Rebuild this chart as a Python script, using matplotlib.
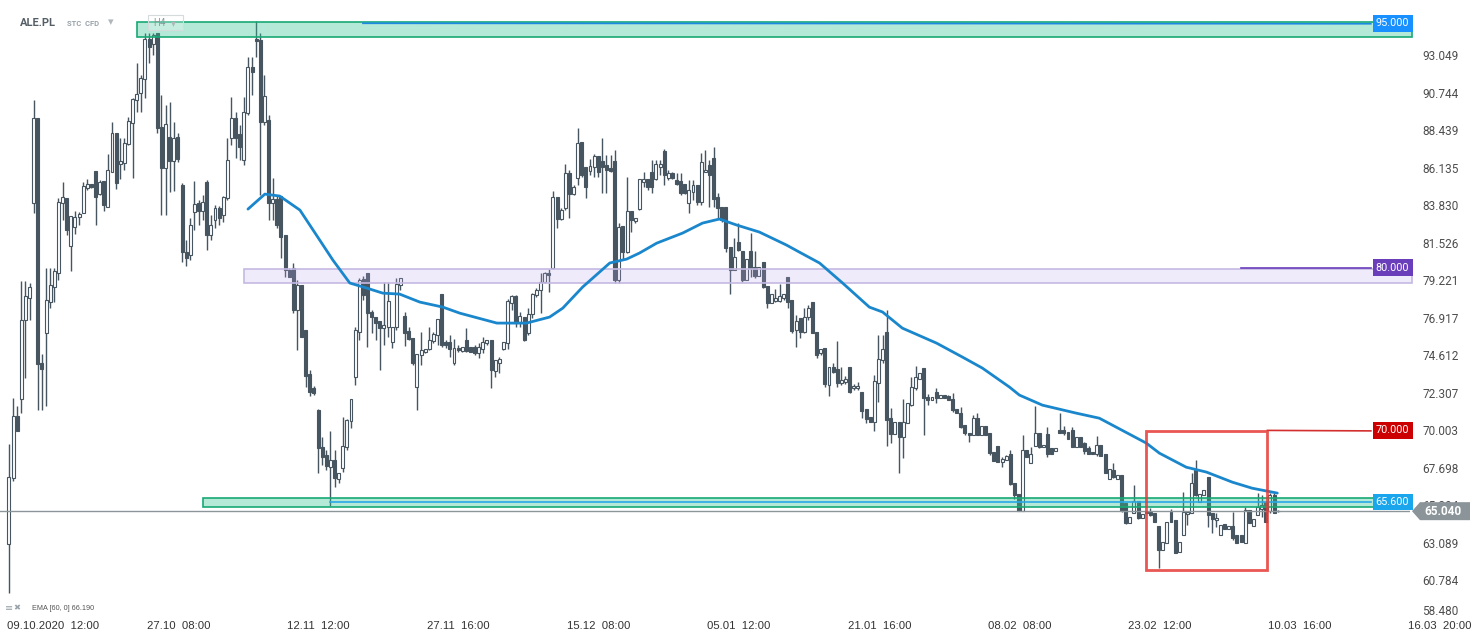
import numpy as np
import matplotlib.pyplot as plt
from matplotlib import transforms
from matplotlib.colors import to_rgba
from matplotlib.patches import Rectangle, Polygon

# ---------------------------------------------------------------
# ALE.PL, H4 candles (prices)
opens = [
    63.01, 67.07, 70.88, 71.92, 76.77, 78.13, 83.97, 89.18, 74.14, 75.98,
    77.88, 78.80, 79.67, 83.97, 84.27, 81.32, 82.49, 83.10, 83.35, 84.88,
    85.13, 85.93, 84.51, 85.31, 83.72, 85.87, 88.27, 86.35, 86.42, 87.58,
    88.88, 90.29, 90.72, 91.58, 94.03, 93.73, 94.40, 88.63, 86.11, 88.02,
    86.54, 88.02, 85.07, 80.95, 80.77, 83.41, 83.97, 83.47, 85.25, 81.99,
    82.92, 83.66, 83.22, 84.27, 87.95, 89.18, 88.20, 86.60, 89.49, 92.31,
    94.03, 93.97, 88.94, 89.06, 83.97, 84.21, 84.39, 81.99, 79.85, 79.97,
    77.39, 78.92, 76.16, 73.46, 72.60, 71.25, 68.97, 68.48, 67.74, 68.17,
    67.01, 67.68, 68.97, 70.57, 73.27, 76.04, 79.29, 79.67, 77.26, 76.96,
    76.71, 76.28, 76.34, 75.42, 76.34, 78.92, 77.02, 76.10, 75.67, 72.66,
    74.62, 74.81, 74.99, 75.48, 75.85, 78.37, 75.42, 75.42, 74.14, 75.05,
    74.87, 75.55, 75.12, 75.12, 74.75, 74.99, 75.36, 75.55, 73.64, 74.13,
    74.99, 75.36, 77.82, 78.25, 76.65, 76.96, 75.98, 77.14, 78.31, 78.62,
    79.11, 79.66, 79.97, 84.33, 82.98, 83.66, 85.80, 84.51, 85.50, 87.71,
    86.17, 85.93, 86.17, 86.85, 86.54, 86.30, 86.11, 86.54, 79.23, 82.55,
    80.95, 83.47, 82.86, 83.59, 85.25, 85.43, 85.87, 85.43, 86.17, 87.16,
    85.50, 85.80, 85.37, 85.31, 85.13, 83.97, 84.64, 85.07, 84.03, 85.87,
    86.30, 86.72, 84.33, 83.72, 83.72, 81.26, 79.85, 81.57, 81.01, 79.23,
    81.01, 80.03, 79.48, 80.34, 78.86, 77.82, 77.94, 77.94, 78.13, 79.42,
    78.00, 76.16, 76.90, 76.04, 76.96, 77.88, 76.04, 74.75, 75.05, 72.78,
    73.89, 73.77, 72.90, 72.97, 73.89, 72.60, 72.60, 72.35, 71.31, 70.82,
    70.51, 72.90, 74.32, 76.04, 70.76, 69.77, 70.51, 69.59, 70.45, 71.55,
    72.60, 73.15, 73.83, 72.04, 71.86, 72.35, 71.98, 72.17, 72.11, 71.92,
    71.31, 71.06, 70.32, 69.83, 69.71, 70.75, 69.71, 70.26, 69.83, 68.67,
    69.03, 68.05, 68.17, 68.54, 66.76, 66.08, 65.04, 68.79, 67.99, 69.03,
    69.83, 68.97, 69.77, 68.91, 68.73, 70.02, 70.02, 69.89, 70.02, 68.97,
    69.59, 69.22, 68.91, 68.67, 68.54, 69.09, 68.54, 67.01, 67.56, 67.01,
    67.25, 65.53, 64.30, 64.92, 65.66, 64.61, 64.98, 64.98, 64.92, 64.12,
    62.65, 63.08, 64.98, 64.49, 62.52, 63.57, 64.86, 64.92, 67.56, 65.59,
    66.02, 67.13, 64.92, 64.49, 63.57, 64.24, 63.94, 64.12, 63.57, 63.57,
    63.08, 65.10, 64.12, 64.80, 65.17, 65.60, 65.04, 66.02, 65.04,
]
highs = [
    69.15, 71.98, 71.49, 79.17, 79.17, 79.05, 90.29, 89.18, 74.68, 79.97,
    79.97, 79.97, 84.27, 85.25, 84.27, 83.16, 83.47, 83.41, 85.25, 85.43,
    85.13, 85.93, 85.37, 85.31, 86.97, 88.94, 88.27, 87.95, 87.95, 89.24,
    90.41, 92.56, 91.82, 94.40, 94.40, 94.40, 94.40, 90.60, 89.98, 90.17,
    88.94, 88.26, 85.19, 81.69, 83.04, 85.31, 84.15, 84.45, 85.37, 83.22,
    83.84, 83.78, 84.39, 87.95, 90.47, 89.55, 88.75, 90.47, 92.93, 92.93,
    95.14, 94.40, 91.82, 89.37, 85.50, 84.45, 84.39, 81.99, 79.97, 80.28,
    79.23, 78.92, 76.16, 73.70, 72.72, 71.31, 69.59, 68.79, 69.96, 68.79,
    67.38, 70.82, 70.69, 71.92, 76.34, 79.35, 79.48, 79.67, 77.39, 76.96,
    76.71, 79.11, 79.11, 76.34, 79.35, 79.35, 77.27, 76.34, 75.67, 74.68,
    76.04, 74.99, 76.34, 76.04, 76.84, 78.37, 75.55, 75.85, 75.61, 75.24,
    75.12, 76.28, 75.12, 75.24, 75.36, 75.73, 75.55, 75.55, 74.32, 74.50,
    75.42, 78.06, 78.31, 78.31, 77.27, 76.96, 77.51, 78.43, 78.74, 79.66,
    79.72, 79.91, 84.70, 84.33, 83.66, 86.36, 85.99, 85.07, 88.57, 87.71,
    86.17, 86.66, 86.97, 86.85, 87.95, 86.91, 86.91, 87.22, 82.73, 82.55,
    85.56, 83.47, 83.04, 85.43, 85.87, 85.43, 86.60, 86.60, 86.60, 87.28,
    85.99, 85.87, 85.80, 85.80, 85.13, 85.37, 85.37, 85.07, 87.03, 87.22,
    86.60, 87.40, 84.58, 83.72, 83.72, 81.26, 81.81, 82.73, 81.01, 80.52,
    82.12, 81.03, 80.03, 80.34, 78.86, 78.37, 78.68, 78.99, 78.37, 79.42,
    78.00, 77.08, 76.90, 77.51, 77.70, 77.88, 76.04, 74.99, 75.05, 73.89,
    74.13, 75.48, 73.89, 73.33, 73.89, 72.84, 72.97, 72.35, 71.31, 70.82,
    73.39, 75.85, 75.85, 77.39, 71.37, 70.51, 70.51, 71.92, 71.68, 73.27,
    73.95, 73.52, 73.83, 72.23, 72.04, 72.60, 72.17, 72.17, 72.17, 72.29,
    71.31, 71.43, 70.32, 69.83, 70.94, 71.06, 70.26, 70.26, 69.83, 68.67,
    69.03, 68.36, 68.48, 68.79, 66.76, 66.08, 69.71, 68.79, 68.97, 71.49,
    69.83, 69.09, 70.20, 68.91, 68.91, 71.06, 70.26, 69.89, 70.20, 69.59,
    69.59, 69.28, 69.03, 68.67, 69.65, 69.09, 68.54, 67.62, 67.99, 67.25,
    67.25, 65.53, 64.67, 66.64, 65.66, 64.86, 64.98, 65.23, 64.92, 64.12,
    63.14, 64.37, 65.17, 64.49, 63.14, 66.21, 64.98, 67.38, 68.17, 66.08,
    66.33, 67.13, 64.92, 64.92, 64.18, 64.24, 64.12, 64.98, 63.57, 63.57,
    65.29, 65.10, 64.55, 66.15, 66.02, 65.60, 66.15, 66.15, 65.10,
]
lows = [
    60.01, 66.89, 69.96, 71.07, 73.21, 76.77, 83.35, 71.25, 71.25, 71.49,
    77.51, 77.88, 79.23, 82.92, 81.99, 79.79, 82.05, 82.61, 83.35, 84.76,
    84.88, 82.61, 84.45, 83.47, 83.72, 85.87, 84.82, 85.43, 85.99, 87.52,
    85.50, 89.55, 89.55, 90.41, 92.56, 93.05, 88.27, 83.22, 83.22, 84.64,
    84.70, 86.48, 80.34, 80.09, 80.46, 82.30, 82.61, 82.92, 81.07, 81.69,
    82.43, 82.61, 82.80, 84.15, 87.52, 86.72, 86.60, 86.30, 89.37, 90.60,
    92.93, 84.45, 88.75, 82.92, 82.92, 82.43, 80.58, 79.42, 79.42, 77.20,
    74.93, 75.73, 72.66, 72.11, 72.17, 67.38, 67.87, 67.56, 65.35, 66.52,
    66.76, 67.44, 68.79, 70.14, 72.78, 75.55, 78.00, 75.12, 75.98, 75.55,
    73.70, 75.24, 75.73, 75.05, 76.16, 78.62, 75.18, 75.55, 74.01, 71.25,
    74.01, 74.75, 74.93, 75.36, 75.24, 75.12, 75.05, 74.50, 74.01, 74.81,
    74.81, 74.81, 74.81, 74.62, 74.44, 74.75, 75.24, 72.60, 73.27, 73.52,
    74.93, 74.99, 77.39, 76.34, 76.34, 75.48, 75.85, 76.90, 78.19, 77.20,
    79.05, 78.50, 79.91, 82.43, 82.92, 83.53, 83.04, 84.45, 85.07, 85.56,
    84.27, 85.68, 85.56, 85.56, 84.58, 84.58, 85.87, 79.05, 79.05, 80.52,
    80.89, 82.18, 82.73, 83.53, 84.94, 84.76, 84.58, 85.37, 85.68, 85.07,
    85.37, 85.43, 85.07, 84.45, 84.51, 83.35, 84.15, 83.84, 83.84, 85.87,
    83.72, 83.72, 83.04, 82.80, 80.95, 78.37, 79.85, 81.03, 79.11, 79.23,
    79.42, 79.35, 79.48, 78.74, 77.51, 77.82, 77.88, 77.88, 78.00, 77.51,
    75.98, 75.12, 75.67, 75.98, 76.77, 75.98, 74.44, 74.62, 72.66, 72.11,
    73.52, 72.66, 72.78, 72.84, 72.29, 72.47, 72.47, 70.76, 70.45, 70.51,
    69.96, 71.74, 74.13, 69.03, 69.22, 69.77, 67.38, 68.30, 70.45, 71.49,
    72.47, 73.15, 69.71, 71.55, 71.86, 71.68, 71.98, 71.98, 71.86, 71.12,
    71.06, 70.14, 69.71, 69.28, 69.71, 69.71, 69.71, 69.71, 68.48, 68.11,
    68.05, 67.74, 68.17, 66.64, 65.78, 65.04, 65.04, 68.36, 67.99, 69.03,
    68.91, 68.97, 68.36, 68.54, 68.73, 69.83, 69.71, 69.46, 68.97, 68.97,
    68.97, 68.54, 68.54, 68.54, 68.42, 68.42, 67.38, 67.01, 67.07, 67.01,
    64.98, 64.24, 64.30, 64.92, 64.55, 64.61, 64.92, 64.73, 64.37, 61.54,
    62.65, 63.08, 64.37, 62.46, 62.52, 63.57, 64.18, 64.92, 65.96, 65.59,
    66.02, 64.06, 63.69, 64.06, 63.57, 63.94, 63.94, 63.26, 63.08, 63.14,
    63.08, 64.30, 64.12, 64.80, 64.67, 64.37, 64.92, 64.92, 64.98,
]
closes = [
    67.13, 70.88, 69.96, 76.77, 78.25, 78.80, 89.18, 74.07, 73.77, 78.00,
    78.92, 79.79, 84.03, 84.33, 82.30, 83.16, 83.10, 83.29, 85.00, 85.13,
    84.94, 84.33, 85.25, 83.84, 85.99, 88.27, 85.19, 86.54, 87.65, 89.00,
    90.35, 90.66, 91.64, 94.03, 93.54, 94.28, 88.57, 86.11, 88.81, 86.54,
    87.95, 86.66, 80.95, 80.58, 82.61, 83.90, 83.47, 84.03, 81.99, 82.61,
    83.66, 83.04, 84.33, 86.60, 89.18, 87.95, 87.40, 89.55, 92.31, 92.01,
    93.91, 88.94, 90.53, 83.97, 84.21, 82.61, 81.87, 79.85, 79.42, 77.39,
    78.92, 75.73, 73.33, 72.35, 72.29, 68.91, 68.36, 67.81, 68.17, 67.07,
    67.38, 69.03, 70.63, 71.92, 76.16, 79.23, 78.31, 77.20, 76.96, 76.59,
    76.28, 76.47, 77.94, 76.34, 78.98, 79.35, 75.98, 75.61, 74.14, 74.68,
    74.93, 74.99, 75.55, 75.91, 76.84, 75.24, 75.24, 74.99, 75.05, 74.93,
    75.12, 74.87, 74.81, 74.75, 75.12, 75.42, 75.55, 73.70, 74.32, 74.38,
    75.42, 77.94, 78.25, 76.59, 77.02, 75.55, 77.14, 78.37, 78.62, 79.11,
    79.66, 79.54, 84.33, 82.98, 83.53, 85.80, 84.51, 84.94, 87.65, 85.68,
    84.94, 86.23, 86.85, 85.87, 86.17, 85.99, 85.93, 79.23, 82.49, 80.95,
    83.47, 82.92, 83.04, 85.43, 85.43, 84.94, 84.94, 86.36, 86.36, 85.68,
    85.80, 85.50, 85.13, 84.58, 84.58, 84.76, 85.07, 84.03, 86.48, 85.99,
    85.68, 84.21, 83.66, 82.92, 81.20, 79.85, 80.64, 81.09, 79.23, 80.52,
    79.97, 79.48, 80.03, 78.80, 77.82, 78.37, 78.13, 78.25, 78.37, 77.88,
    76.10, 76.71, 76.04, 76.96, 77.51, 75.98, 74.62, 74.99, 72.84, 73.89,
    73.58, 72.90, 73.09, 73.15, 72.35, 72.72, 72.72, 71.18, 70.69, 70.51,
    73.03, 74.38, 74.99, 70.63, 69.77, 70.51, 69.59, 70.51, 71.68, 72.66,
    73.27, 73.52, 71.98, 71.86, 72.04, 71.98, 72.17, 71.98, 71.86, 71.25,
    71.06, 70.20, 69.83, 69.71, 70.75, 69.71, 70.26, 69.71, 68.60, 68.11,
    68.05, 68.24, 68.42, 66.70, 66.02, 65.04, 68.79, 68.36, 68.54, 69.83,
    68.97, 69.09, 68.54, 68.54, 68.91, 69.83, 69.83, 69.46, 68.97, 69.59,
    68.97, 68.73, 68.54, 68.54, 69.09, 68.42, 67.38, 67.62, 67.13, 67.25,
    65.10, 64.30, 64.67, 65.66, 64.61, 64.86, 64.92, 64.80, 64.37, 62.65,
    63.14, 64.37, 64.37, 62.46, 63.14, 64.98, 64.98, 66.76, 66.02, 66.08,
    66.33, 64.80, 64.55, 64.61, 64.18, 63.94, 64.12, 63.38, 63.08, 63.14,
    65.10, 64.30, 64.55, 65.29, 65.41, 64.37, 66.02, 64.92, 65.04,
]

# EMA(60) sampled off the chart: candle index -> value
ema_idx = [58.0, 62.1, 65.7, 70.6, 75.4, 78.6, 82.7, 86.8, 90.7, 94.8,
           99.7, 105.3, 109.4, 118.4, 125.6, 131.2, 134.4, 139.2, 145.8, 149.9,
           153.0, 157.2, 163.5, 168.3, 172.4, 176.6, 182.1, 188.7, 191.8, 196.7,
           202.3, 208.8, 212.0, 216.8, 225.1, 231.4, 236.2, 242.8, 245.2, 250.8,
           259.0, 264.6, 276.0, 279.2, 285.7, 290.6, 296.9, 301.7, 307.8]
ema_val = [83.59, 84.51, 84.39, 83.53, 81.69, 80.46, 79.05, 78.74, 78.43, 78.37,
           77.88, 77.57, 77.20, 76.59, 76.59, 76.96, 77.51, 78.80, 80.28, 80.52,
           80.89, 81.50, 82.12, 82.73, 82.98, 82.61, 82.18, 81.38, 80.95, 80.28,
           79.05, 77.57, 77.27, 76.28, 75.36, 74.50, 73.83, 72.66, 72.17, 71.55,
           71.06, 70.75, 69.22, 68.60, 67.74, 67.44, 66.82, 66.45, 66.15]

ytick_vals = [58.480, 60.784, 63.089, 65.394, 67.698, 70.003, 72.307, 74.612,
              76.917, 79.221, 81.526, 83.830, 86.135, 88.439, 90.744, 93.049]
date_idx = [0, 34, 68, 102, 136, 170, 204, 238, 272, 306, 340]
date_labels = ['09.10.2020  12:00', '27.10  08:00', '12.11  12:00', '27.11  16:00',
               '15.12  08:00', '05.01  12:00', '21.01  16:00', '08.02  08:00',
               '23.02  12:00', '10.03  16:00', '16.03  20:00']

last_price = 65.040
ema_last = 66.190

# ---------------------------------------------------------------
W, H = 1482, 643
fig = plt.figure(figsize=(W / 100, H / 100), dpi=100)
ax = fig.add_axes([0, 25 / H, 1410 / W, 618 / H])
ax.set_xlim(-2.18, 340.0)
ax.set_ylim(58.48, 96.43)
for s in ax.spines.values():
    s.set_visible(False)

candle_col = '#46555f'
o = np.array(opens); h = np.array(highs); l = np.array(lows); c = np.array(closes)
x = np.arange(len(c))
up = c >= o
ax.vlines(x, l, h, color=candle_col, lw=1, zorder=3)
ax.bar(x, np.maximum(np.abs(c - o), 0.04), bottom=np.minimum(o, c), width=0.72,
       color=np.where(up, 'white', candle_col), edgecolor=candle_col,
       linewidth=0.8, zorder=4)

# EMA
ax.plot(ema_idx, ema_val, color='#1a87cc', lw=2, zorder=6, solid_capstyle='round')

# zones
x_end = 340.5
def zone(x0, lo, hi, fc, alpha, ec):
    ax.add_patch(Rectangle((x0, lo), x_end - x0, hi - lo, facecolor=to_rgba(fc, alpha),
                           edgecolor=ec, lw=1.2, zorder=5, clip_on=False))

zone(31.05, 94.16, 95.08, '#2ec28f', 0.36, '#17a974')
zone(57.0, 79.04, 79.90, '#b9a6ec', 0.22, '#c4b9e2')
zone(47.05, 65.29, 65.84, '#2ec28f', 0.36, '#17a974')

# level lines
ax.plot([85.9, 330.5], [95.0, 94.97], color='#1e88e5', lw=1.2, zorder=6)
ax.plot([299.0, 330.5], [80.0, 80.0], color='#6a3dbb', lw=1.2, zorder=6)
ax.plot([305.4, 330.5], [70.0, 69.97], color='#d32f2f', lw=1.2, zorder=6)
ax.plot([77.9, 330.5], [65.6, 65.6], color='#29a8e8', lw=1.2, zorder=6)
ax.axhline(last_price, color='#8c959a', lw=1, zorder=6)

# highlighted box
ax.add_patch(Rectangle((276.0, 61.42), 29.4, 8.54, fill=False, edgecolor='#e53935',
                       lw=2, alpha=0.85, zorder=7))

# level tags on the right
blend = transforms.blended_transform_factory(ax.transAxes, ax.transData)
for val, col in [(95.0, '#1890ff'), (80.0, '#6a3dbb'), (70.0, '#cc0000'), (65.6, '#1aa6ec')]:
    ax.text(1392.5 / 1410, val, f'{val:.3f}', transform=blend, ha='center', va='center',
            color='white', fontsize=7.8, family='Roboto', zorder=9, clip_on=False,
            bbox=dict(boxstyle='square,pad=0.3', fc=col, ec='none'))

# last price tag
tag_tr = fig.dpi_scale_trans + transforms.ScaledTranslation(1.0, last_price, blend)
ax.add_patch(Polygon([(0.02, 0), (0.10, 0.09), (0.60, 0.09), (0.60, -0.09), (0.10, -0.09)],
                     closed=True, transform=tag_tr, facecolor='#8a9499', edgecolor='none',
                     zorder=10, clip_on=False))
ax.text(1443 / 1410, last_price, f'{last_price:.3f}', transform=blend, ha='center',
        va='center', color='white', fontsize=8.5, fontweight='bold', family='Roboto',
        zorder=11, clip_on=False)

# axes ticks
ax.yaxis.tick_right()
ax.set_yticks(ytick_vals)
ax.set_yticklabels([f'{v:.3f}' for v in ytick_vals])
ax.tick_params(axis='y', length=0, pad=9, labelsize=8.5, labelcolor='#4d4d4d')
for lab in ax.get_yticklabels():
    lab.set_family('Roboto')
ax.get_yticklabels()[0].set_va('bottom')

ax.set_xticks(np.array(date_idx) - 0.5)
ax.set_xticklabels(date_labels)
ax.tick_params(axis='x', length=0, pad=2, labelsize=8.2, labelcolor='#333333')
for lab in ax.get_xticklabels():
    lab.set_ha('left')
    lab.set_family('Liberation Sans')

# header
fig.text(20 / W, 1 - 23 / H, 'ALE.PL', fontsize=8, fontweight='bold', color='#555e66',
         family='Roboto', va='center')
fig.text(67 / W, 1 - 24 / H, 'STC  CFD', fontsize=5.5, fontweight='bold', color='#9aa3aa',
         family='Roboto', va='center')
fig.text(108 / W, 1 - 22 / H, '\u25be', fontsize=8, color='#b0b6ba', va='center')
fig.patches.append(Rectangle((148 / W, 1 - 30 / H), 35 / W, 15 / H, transform=fig.transFigure,
                             facecolor=(1, 1, 1, 0.25), edgecolor='#d5dadd', lw=0.8,
                             zorder=12))
fig.text(153 / W, 1 - 23 / H, 'H4', fontsize=7, color='#8e979e', family='Roboto', va='center',
         zorder=13)
fig.text(171 / W, 1 - 23 / H, '\u25be', fontsize=7, color='#b0b6ba', va='center', zorder=13)

# indicator legend bottom-left
fig.text(5 / W, 1 - 608 / H, '\u2261', fontsize=7, color='#9aa3aa', va='center')
fig.text(13 / W, 1 - 608 / H, '\u2716', fontsize=6, color='#9aa3aa', va='center')
fig.text(32 / W, 1 - 608 / H, f'EMA [60, 0] {ema_last:.3f}', fontsize=5.2, color='#555555',
         va='center', family='Liberation Sans')

fig.savefig('out.png', dpi=100, facecolor='white')
